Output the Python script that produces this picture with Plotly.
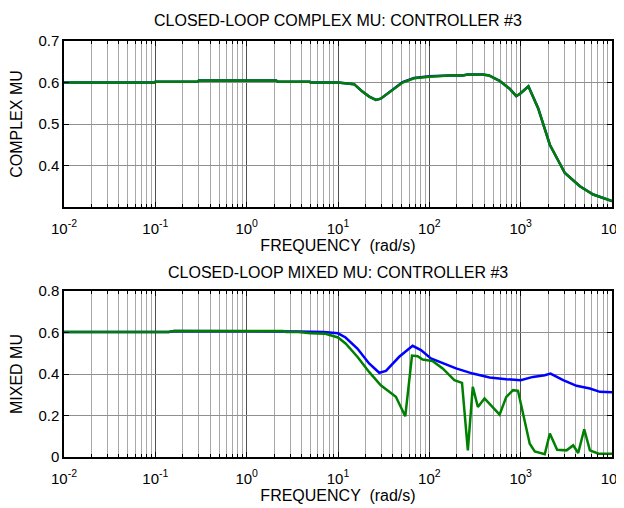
import plotly.graph_objects as go

# ---- data ----
freq_top = [0.01, 0.098, 0.1, 0.29, 0.3, 2.1, 2.2, 4.9, 5.0, 10, 15, 18.5, 22, 26, 29.4,
            33, 38, 51, 68, 100, 166, 232, 263, 386, 450, 588, 757, 895, 1000, 1216,
            1553, 2086, 3048, 4450, 6230, 10000]
complex_green = [0.600, 0.600, 0.602, 0.602, 0.605, 0.605, 0.602, 0.602, 0.600, 0.600, 0.596,
                 0.578, 0.566, 0.558, 0.561, 0.569, 0.580, 0.600, 0.610, 0.614, 0.617, 0.617,
                 0.619, 0.619, 0.617, 0.604, 0.585, 0.567, 0.574, 0.591, 0.538, 0.450, 0.382,
                 0.350, 0.330, 0.314]
complex_blue = [0.600, 0.600, 0.602, 0.602, 0.605, 0.605, 0.602, 0.602, 0.600, 0.600, 0.596,
                0.578, 0.566, 0.558, 0.561, 0.569, 0.580, 0.601, 0.611, 0.615, 0.617, 0.617,
                0.619, 0.619, 0.617, 0.604, 0.585, 0.567, 0.574, 0.591, 0.538, 0.450, 0.382,
                0.350, 0.330, 0.314]

freq_bot_blue = [0.01, 0.14, 0.16, 3.3, 3.6, 7, 10, 12.1, 16.3, 21.9, 28.3, 33.5, 46.8, 65.6,
                 81, 104, 129, 196, 299, 457, 696, 1000, 1364, 1835, 2120, 2920, 4090, 5730,
                 7380, 10000]
mixed_blue = [0.602, 0.602, 0.607, 0.607, 0.605, 0.602, 0.596, 0.576, 0.523, 0.451, 0.406,
              0.415, 0.483, 0.536, 0.515, 0.475, 0.459, 0.427, 0.402, 0.383, 0.375, 0.370,
              0.386, 0.394, 0.402, 0.370, 0.343, 0.330, 0.314, 0.312]

freq_bot_green = [0.01, 0.14, 0.16, 2.5, 2.7, 3.7, 5, 7.3, 10, 12.1, 16.3, 21.9, 29.4, 43,
                  54.5, 64.6, 74.5, 84.5, 109, 140, 188, 228, 264, 299, 340, 402, 588, 696,
                  825, 935, 1257, 1427, 1835, 2086, 2508, 3175, 3757, 4266, 4964, 5730,
                  7140, 10000]
mixed_green = [0.602, 0.602, 0.607, 0.607, 0.602, 0.602, 0.596, 0.594, 0.576, 0.547, 0.483,
               0.410, 0.346, 0.290, 0.196, 0.489, 0.486, 0.470, 0.462, 0.427, 0.370, 0.357,
               0.032, 0.338, 0.241, 0.282, 0.204, 0.290, 0.322, 0.319, 0.064, 0.027, 0.013,
               0.113, 0.035, 0.032, 0.056, 0.019, 0.134, 0.032, 0.016, 0.016]

x_tickvals = [0.01, 0.1, 1, 10, 100, 1000, 10000]
x_ticktext = ["10<sup>-2</sup>", "10<sup>-1</sup>", "10<sup>0</sup>", "10<sup>1</sup>",
              "10<sup>2</sup>", "10<sup>3</sup>", "10<sup>4</sup>"]
y1_ticks = [0.4, 0.5, 0.6, 0.7]
y2_ticks = [0, 0.2, 0.4, 0.6, 0.8]

minor_vals = [m * 10 ** e for e in range(-2, 4) for m in range(2, 10)]

FONT = "Liberation Sans, Arial, sans-serif"
BLUE = "#0000FF"
GREEN = "#008000"

fig = go.Figure()
fig.add_trace(go.Scatter(x=freq_top, y=complex_blue, mode="lines",
                         line=dict(color=BLUE, width=2.5), xaxis="x", yaxis="y",
                         showlegend=False))
fig.add_trace(go.Scatter(x=freq_top, y=complex_green, mode="lines",
                         line=dict(color=GREEN, width=2.5), xaxis="x", yaxis="y",
                         showlegend=False))
fig.add_trace(go.Scatter(x=freq_bot_blue, y=mixed_blue, mode="lines",
                         line=dict(color=BLUE, width=2.5), xaxis="x2", yaxis="y2",
                         showlegend=False))
fig.add_trace(go.Scatter(x=freq_bot_green, y=mixed_green, mode="lines",
                         line=dict(color=GREEN, width=2.5), xaxis="x2", yaxis="y2",
                         showlegend=False))

# page body has an 8px margin, so the figure is 8px smaller and coordinates are offset
OFF = 8
W = 624 - OFF
H = 508.0 - OFF


def py(y_ref):
    return 1 - (y_ref - OFF) / H


def xaxis_cfg(anchor):
    return dict(
        type="log", range=[-2, 4], anchor=anchor, domain=[0, 1], automargin=False,
        tickmode="array", tickvals=x_tickvals, ticktext=x_ticktext,
        showgrid=True, gridcolor="#505050", gridwidth=1,
        ticks="inside", ticklen=5, tickcolor="black",
        showline=True, linecolor="black", linewidth=1.5, mirror="allticks",
        tickfont=dict(family=FONT, size=15, color="black"),
        ticklabelstandoff=7,
        title=dict(text="FREQUENCY  (rad/s)", font=dict(family=FONT, size=16, color="black"),
                   standoff=0),
        minor=dict(tickmode="array", tickvals=minor_vals, showgrid=True,
                   gridcolor="#a8a8a8", gridwidth=1, ticks="inside", ticklen=3,
                   tickcolor="black"),
        zeroline=False,
    )


def yaxis_cfg(anchor, rng, ticks, title, dom):
    return dict(
        range=rng, anchor=anchor, domain=dom, automargin=False,
        tickmode="array", tickvals=ticks, ticktext=[("%g" % t) for t in ticks],
        showgrid=True, gridcolor="#909090", gridwidth=1,
        ticks="inside", ticklen=5, tickcolor="black",
        showline=True, linecolor="black", linewidth=1.5, mirror="allticks",
        tickfont=dict(family=FONT, size=15, color="black"),
        title=dict(text=title, font=dict(family=FONT, size=16, color="black"), standoff=12),
        zeroline=False,
    )


fig.update_layout(
    width=W, height=H,
    margin=dict(l=64 - OFF, r=12, t=0, b=0, autoexpand=False),
    paper_bgcolor="white", plot_bgcolor="white",
    font=dict(family=FONT, color="black"),
    xaxis=xaxis_cfg("y"),
    yaxis=yaxis_cfg("x", [0.3, 0.7], y1_ticks, "COMPLEX MU", [py(207), py(41)]),
    xaxis2=xaxis_cfg("y2"),
    yaxis2=yaxis_cfg("x2", [0, 0.8], y2_ticks, "MIXED MU", [py(457), py(291)]),
    annotations=[
        dict(text="CLOSED-LOOP COMPLEX MU: CONTROLLER #3", xref="paper", yref="paper",
             x=0.5, y=py(20), xanchor="center", yanchor="middle", showarrow=False,
             font=dict(family=FONT, size=16, color="black")),
        dict(text="CLOSED-LOOP MIXED MU: CONTROLLER #3", xref="paper", yref="paper",
             x=0.5, y=py(272), xanchor="center", yanchor="middle", showarrow=False,
             font=dict(family=FONT, size=16, color="black")),
    ],
)

fig.write_html("out.html")
